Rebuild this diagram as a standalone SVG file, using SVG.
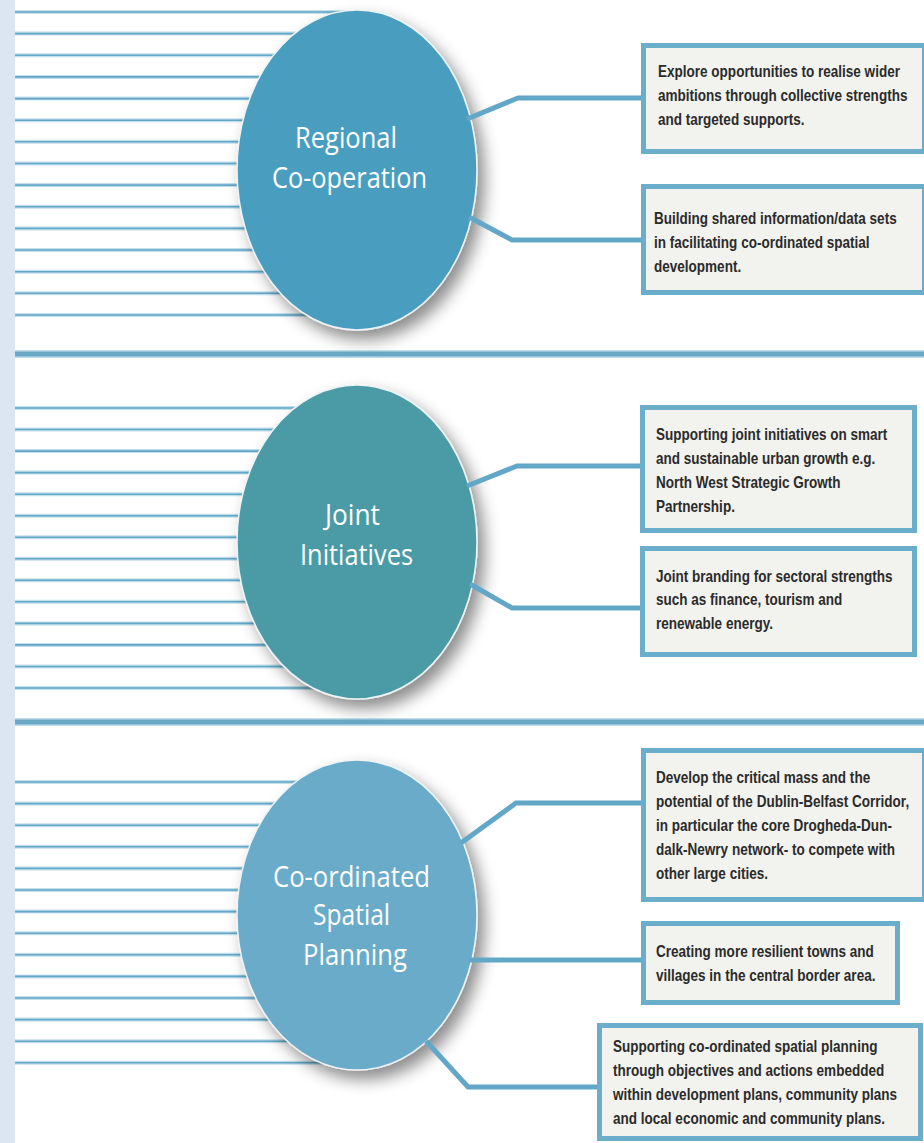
<svg xmlns="http://www.w3.org/2000/svg" width="924" height="1143" viewBox="0 0 924 1143">
<defs>
<style>
.halo{stroke:#c3dfec;stroke-width:4;fill:none}
.core{stroke:#62a8c8;stroke-width:1.6;fill:none}
.sephalo{stroke:#c3dfec;stroke-width:8}
.sep{stroke:#69a9c7;stroke-width:5}
.box{fill:#f2f2ee;stroke:#6aaecc;stroke-width:5}
.conn{stroke:#62a7c7;stroke-width:5;fill:none;stroke-linejoin:miter}
.bt{font-family:"Liberation Sans",Arial,sans-serif;font-weight:bold;font-size:16.5px;fill:#2b2b2b}
.et{font-family:"Open Sans","Noto Sans",sans-serif;font-size:30px;fill:#ffffff;text-anchor:middle}
.ell{stroke:#eef3f5;stroke-width:1.5}
</style>
<filter id="sh" x="-20%" y="-20%" width="145%" height="145%">
<feDropShadow dx="7" dy="9" stdDeviation="8" flood-color="#000" flood-opacity="0.45"/>
</filter>
</defs>
<rect x="0" y="0" width="924" height="1143" fill="#ffffff"/>
<rect x="0" y="0" width="15" height="1143" fill="#dce6f2"/>

<g id="stripes">
<g class="halo">
<path d="M15 12H357M15 33.6H357M15 55.3H357M15 76.9H357M15 98.6H357M15 120.2H357M15 141.8H357M15 163.5H357M15 185.1H357M15 206.8H357M15 228.4H357M15 250H357M15 271.7H357M15 293.3H357M15 315H357"/>
<path d="M15 408H357M15 429.5H357M15 451.1H357M15 472.6H357M15 494.2H357M15 515.7H357M15 537.2H357M15 558.8H357M15 580.3H357M15 601.8H357M15 623.4H357M15 644.9H357M15 666.5H357M15 688H357"/>
<path d="M15 782H357M15 803.6H357M15 825.2H357M15 846.8H357M15 868.4H357M15 890H357M15 911.6H357M15 933.2H357M15 954.8H357M15 976.4H357M15 998H357M15 1019.6H357M15 1041.2H357M15 1062.8H357"/>
</g>
<g class="core">
<path d="M15 12H357M15 33.6H357M15 55.3H357M15 76.9H357M15 98.6H357M15 120.2H357M15 141.8H357M15 163.5H357M15 185.1H357M15 206.8H357M15 228.4H357M15 250H357M15 271.7H357M15 293.3H357M15 315H357"/>
<path d="M15 408H357M15 429.5H357M15 451.1H357M15 472.6H357M15 494.2H357M15 515.7H357M15 537.2H357M15 558.8H357M15 580.3H357M15 601.8H357M15 623.4H357M15 644.9H357M15 666.5H357M15 688H357"/>
<path d="M15 782H357M15 803.6H357M15 825.2H357M15 846.8H357M15 868.4H357M15 890H357M15 911.6H357M15 933.2H357M15 954.8H357M15 976.4H357M15 998H357M15 1019.6H357M15 1041.2H357M15 1062.8H357"/>
</g>
<line class="sephalo" x1="15" y1="354" x2="924" y2="354"/>
<line class="sep" x1="15" y1="354" x2="924" y2="354"/>
<line class="sephalo" x1="15" y1="722" x2="924" y2="722"/>
<line class="sep" x1="15" y1="722" x2="924" y2="722"/>
</g>

<g id="node-regional">
<ellipse class="ell" cx="357" cy="170" rx="120" ry="160" fill="#4a9ec0" filter="url(#sh)"/>
<text class="et" x="346" y="148" textLength="102" lengthAdjust="spacingAndGlyphs">Regional</text>
<text class="et" x="349.5" y="188" textLength="155" lengthAdjust="spacingAndGlyphs">Co-operation</text>
</g>
<g id="node-joint">
<ellipse class="ell" cx="357" cy="542" rx="120" ry="157" fill="#4b9ba6" filter="url(#sh)"/>
<text class="et" x="352.5" y="525" textLength="55" lengthAdjust="spacingAndGlyphs">Joint</text>
<text class="et" x="356.5" y="565" textLength="113" lengthAdjust="spacingAndGlyphs">Initiatives</text>
</g>
<g id="node-spatial">
<ellipse class="ell" cx="357" cy="915" rx="120" ry="155" fill="#6aabca" filter="url(#sh)"/>
<text class="et" x="351.5" y="887" textLength="157" lengthAdjust="spacingAndGlyphs">Co-ordinated</text>
<text class="et" x="351.5" y="925" textLength="77" lengthAdjust="spacingAndGlyphs">Spatial</text>
<text class="et" x="355" y="965" textLength="104" lengthAdjust="spacingAndGlyphs">Planning</text>
</g>

<g id="connectors">
<polyline class="conn" points="467,119 518,98 641,98"/>
<polyline class="conn" points="469,217 512,240 641,240"/>
<polyline class="conn" points="467,486 517,466 640,466"/>
<polyline class="conn" points="470,584 512,608 640,608"/>
<polyline class="conn" points="461,843 516,803 641,803"/>
<polyline class="conn" points="469,960 641,960"/>
<polyline class="conn" points="426,1041 468,1087 597,1087"/>
</g>

<g id="box-1">
<rect class="box" x="643.5" y="45.5" width="281" height="106"/>
<g class="bt" transform="translate(658,0) scale(0.82,1)">
<text x="0" y="77">Explore opportunities to realise wider</text>
<text x="0" y="101">ambitions through collective strengths</text>
<text x="0" y="125">and targeted supports.</text>
</g>
</g>
<g id="box-2">
<rect class="box" x="643.5" y="186.5" width="281" height="106"/>
<g class="bt" transform="translate(654,0) scale(0.82,1)">
<text x="0" y="224">Building shared information/data sets</text>
<text x="0" y="248">in facilitating co-ordinated spatial</text>
<text x="0" y="272">development.</text>
</g>
</g>
<g id="box-3">
<rect class="box" x="642.5" y="407.5" width="272" height="123"/>
<g class="bt" transform="translate(656,0) scale(0.82,1)">
<text x="0" y="440">Supporting joint initiatives on smart</text>
<text x="0" y="464">and sustainable urban growth e.g.</text>
<text x="0" y="488">North West Strategic Growth</text>
<text x="0" y="512">Partnership.</text>
</g>
</g>
<g id="box-4">
<rect class="box" x="642.5" y="548.5" width="272" height="106"/>
<g class="bt" transform="translate(656,0) scale(0.82,1)">
<text x="0" y="582">Joint branding for sectoral strengths</text>
<text x="0" y="605">such as finance, tourism and</text>
<text x="0" y="629">renewable energy.</text>
</g>
</g>
<g id="box-5">
<rect class="box" x="643.5" y="750.5" width="281" height="149"/>
<g class="bt" transform="translate(656,0) scale(0.82,1)">
<text x="0" y="783">Develop the critical mass and the</text>
<text x="0" y="807">potential of the Dublin-Belfast Corridor,</text>
<text x="0" y="831">in particular the core Drogheda-Dun-</text>
<text x="0" y="855">dalk-Newry network- to compete with</text>
<text x="0" y="879">other large cities.</text>
</g>
</g>
<g id="box-6">
<rect class="box" x="643.5" y="923.5" width="254" height="79"/>
<g class="bt" transform="translate(656,0) scale(0.82,1)">
<text x="0" y="957">Creating more resilient towns and</text>
<text x="0" y="981">villages in the central border area.</text>
</g>
</g>
<g id="box-7">
<rect class="box" x="599.5" y="1025.5" width="321" height="113"/>
<g class="bt" transform="translate(613,0) scale(0.82,1)">
<text x="0" y="1052">Supporting co-ordinated spatial planning</text>
<text x="0" y="1076">through objectives and actions embedded</text>
<text x="0" y="1100">within development plans, community plans</text>
<text x="0" y="1124">and local economic and community plans.</text>
</g>
</g>
</svg>
